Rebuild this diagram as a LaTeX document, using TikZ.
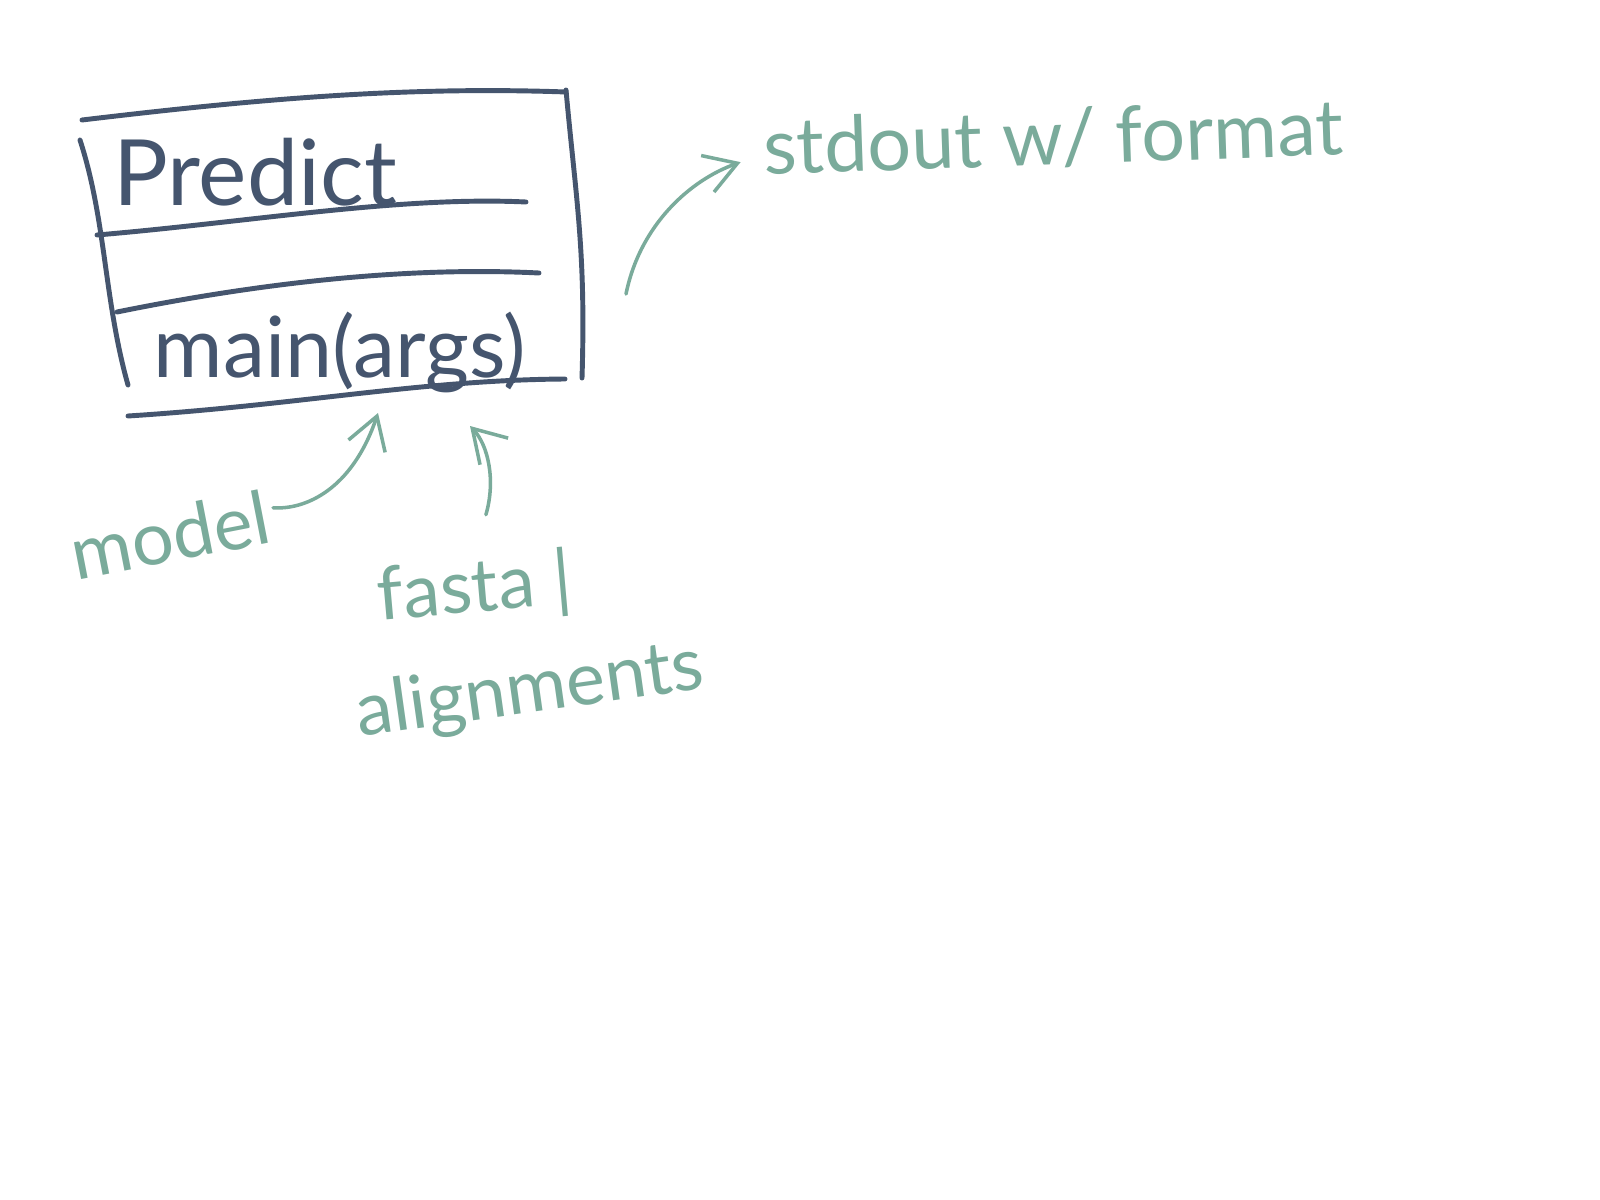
\documentclass[tikz,border=0pt]{standalone}
\usepackage{fontspec}
\setmainfont{Lato}
\usetikzlibrary{arrows.meta,calc}
\definecolor{ink}{HTML}{45556E}
\definecolor{sage}{HTML}{7AAB9B}
\begin{document}
\begin{tikzpicture}[x=0.01cm,y=-0.01cm,
  boxline/.style={draw=ink,line width=1.4pt,line cap=round},
  inktext/.style={text=ink,inner sep=0pt},
  note/.style={text=sage,inner sep=0pt},
  pointer/.style={draw=sage,line width=1pt,line cap=round,-{Straight Barb[length=9pt,width=11pt]}}]
\useasboundingbox[fill=white] (0,0) rectangle (1600,1200);
% class box
\draw[boxline] (82,120) .. controls (250,100) and (400,86) .. (566,92);
\draw[boxline] (566,90) .. controls (576,200) and (586,250) .. (582,378);
\draw[boxline] (80,140) .. controls (106,220) and (104,300) .. (128,385);
\draw[boxline] (128,416) .. controls (300,405) and (420,380) .. (565,379);
\draw[boxline] (97,235) .. controls (250,222) and (400,196) .. (526,202);
\draw[boxline] (117,312) .. controls (250,285) and (400,266) .. (539,273);
\node[inktext,font=\fontsize{26}{30}\selectfont] (predict) at (255,172) {Predict};
\node[inktext,font=\fontsize{24}{28}\selectfont] (main) at (340,352) {main(args)};
% labels
\node[note,font=\fontsize{21}{25}\selectfont,rotate=11] (model) at (170,535) {model};
\node[note,font=\fontsize{21}{25}\selectfont,rotate=5] (fasta) at (475,590) {fasta |};
\node[note,font=\fontsize{21}{25}\selectfont,rotate=8] (align) at (530,692) {alignments};
\node[note,font=\fontsize{22}{26}\selectfont,rotate=2] (stdout) at (1053,138) {stdout w/ format};
% connector ends
\coordinate (modeltip) at (378,413);
\coordinate (fastatip) at (470,426);
\coordinate (outstart) at (626,294);
% arrows
\draw[pointer] ($(model.east)+(4,-8)$) .. controls (305,510) and (352,490) .. (modeltip);
\draw[pointer] ($(fasta.north)+(14,-40)$) .. controls (496,480) and (488,445) .. (fastatip);
\draw[pointer] (outstart) .. controls (640,225) and (690,180) .. ($(stdout.west)+(-22,14)$);
\end{tikzpicture}
\end{document}
